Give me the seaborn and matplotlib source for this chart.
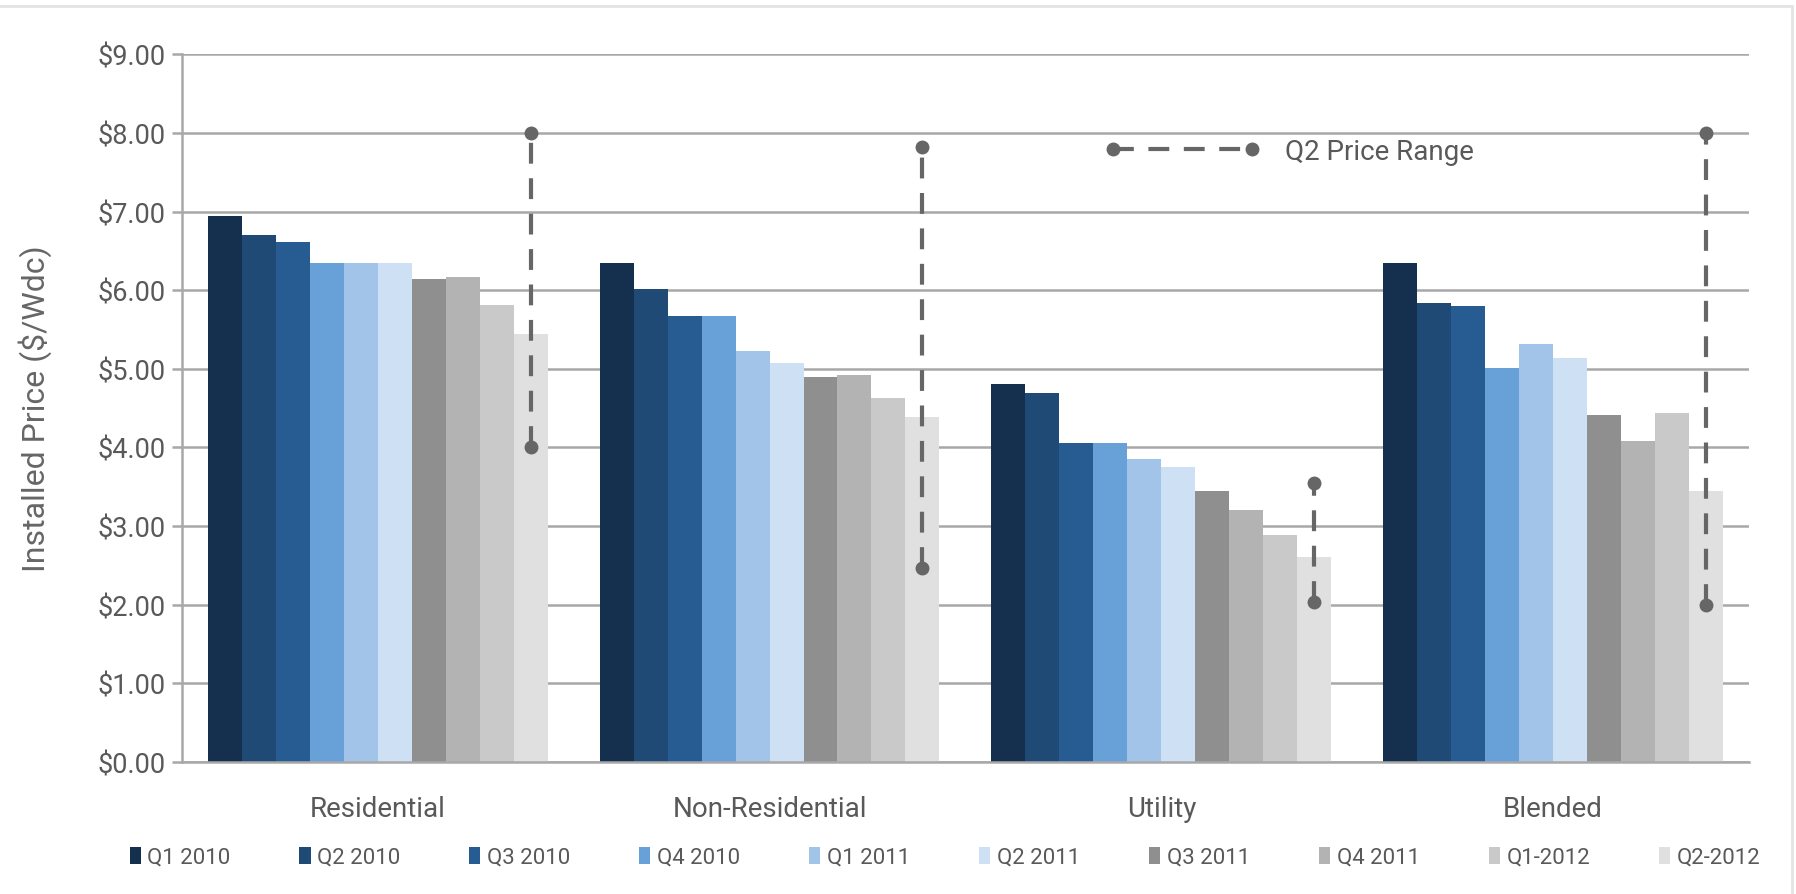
import matplotlib
matplotlib.use("Agg")
import matplotlib.pyplot as plt
import pandas as pd
import seaborn as sns
from matplotlib.lines import Line2D
from matplotlib.patches import Rectangle
from matplotlib.ticker import FuncFormatter

# === Données ===
segments = ["Residential", "Non-Residential", "Utility", "Blended"]
quarters = ["Q1 2010", "Q2 2010", "Q3 2010", "Q4 2010", "Q1 2011",
            "Q2 2011", "Q3 2011", "Q4 2011", "Q1-2012", "Q2-2012"]

residential = [6.94, 6.70, 6.61, 6.34, 6.34, 6.34, 6.14, 6.17, 5.81, 5.44]
non_residential = [6.35, 6.02, 5.67, 5.67, 5.23, 5.07, 4.89, 4.92, 4.63, 4.38]
utility = [4.81, 4.69, 4.05, 4.05, 3.85, 3.75, 3.44, 3.20, 2.89, 2.60]
blended = [6.34, 5.84, 5.80, 5.01, 5.32, 5.14, 4.41, 4.08, 4.44, 3.44]

q2_range_low = [4.00, 2.47, 2.03, 2.00]
q2_range_high = [8.00, 7.82, 3.55, 8.00]

# === Palette ===
quarter_colors = ["#15304f", "#1f4a75", "#265c92", "#68a0d8", "#a1c4e8",
                  "#cde0f4", "#8f8f8f", "#b3b3b3", "#c9c9c9", "#e0e0e0"]
RANGE_COLOR = "#666666"
GRID_COLOR = "#a8a8a8"
TEXT_COLOR = "#595959"

df = pd.DataFrame({
    "segment": [s for s in segments for _ in quarters],
    "quarter": quarters * len(segments),
    "price": residential + non_residential + utility + blended,
})

sns.set_style("white")
plt.rcParams["font.family"] = ["Roboto", "DejaVu Sans"]

fig = plt.figure(figsize=(17.96, 8.95), dpi=100)
ax = fig.add_axes([0.1013, 0.1478, 0.8725, 0.7904])

sns.barplot(
    data=df, x="segment", y="price", hue="quarter",
    order=segments, hue_order=quarters, palette=quarter_colors,
    width=0.867, saturation=1, linewidth=0, errorbar=None, ax=ax,
)

# ---------- Fourchettes de prix Q2 ----------
for bar, lo, hi in zip(ax.containers[-1], q2_range_low, q2_range_high):
    xc = bar.get_x() + bar.get_width() / 2
    ax.plot([xc, xc], [lo, hi], color=RANGE_COLOR, ls=(0, (5, 3.5)), lw=3,
            marker="o", ms=9, zorder=5)

# ---------- Axes ----------
ax.set_xlim(-0.5, 3.5)
ax.set_ylim(0, 9)
ax.set_yticks(range(10))
ax.yaxis.set_major_formatter(FuncFormatter(lambda v, _: f"${v:.2f}"))
ax.set_axisbelow(True)
ax.yaxis.grid(True, color=GRID_COLOR, lw=1.8)
ax.xaxis.grid(False)

for side in ["top", "right"]:
    ax.spines[side].set_visible(False)
for side in ["left", "bottom"]:
    ax.spines[side].set_color(GRID_COLOR)
    ax.spines[side].set_linewidth(1.8)

ax.set_xticks([-0.5, 0.5, 1.5, 2.5, 3.5], minor=True)
ax.tick_params(axis="x", which="major", length=0, pad=24, labelsize=20,
               labelcolor=TEXT_COLOR)
ax.tick_params(axis="x", which="minor", length=7, width=1.8, color=GRID_COLOR,
               direction="out")
ax.tick_params(axis="y", length=7, width=1.8, color=GRID_COLOR, pad=5,
               labelsize=19.5, labelcolor=TEXT_COLOR, left=True)

ax.set_xlabel("")
ax.set_ylabel("Installed Price ($/Wdc)", fontsize=23, color="#666666")
ax.yaxis.set_label_coords(-0.083, 0.5)

# === Légendes ===
sns.move_legend(
    ax, "center", bbox_to_anchor=(0.487, -0.135), ncol=10, frameon=False,
    title=None, handlelength=0.5, handleheight=0.8, handletextpad=0.3,
    columnspacing=3.1, fontsize=16,
)
bar_legend = ax.get_legend()
for t in bar_legend.get_texts():
    t.set_color(TEXT_COLOR)
ax.add_artist(bar_legend)

range_handle = Line2D([], [], color=RANGE_COLOR, ls=(0, (5, 3.5)), lw=3,
                      marker="o", ms=9)
ax.legend(
    handles=[range_handle], labels=["Q2 Price Range"], loc="center left",
    bbox_to_anchor=(0.589, 0.863), frameon=False, numpoints=2,
    handlelength=5.6, handletextpad=0.9, borderpad=0, borderaxespad=0,
    fontsize=20, labelcolor=TEXT_COLOR,
)

# Cadre gris clair autour du graphique
fig.add_artist(Rectangle((-0.01, -0.01), 1792 / 1796 + 0.01, 1 - 7 / 895 + 0.01,
                         transform=fig.transFigure, fill=False,
                         edgecolor="#e3e3e3", lw=2))

fig.savefig("out.png", dpi=100)
